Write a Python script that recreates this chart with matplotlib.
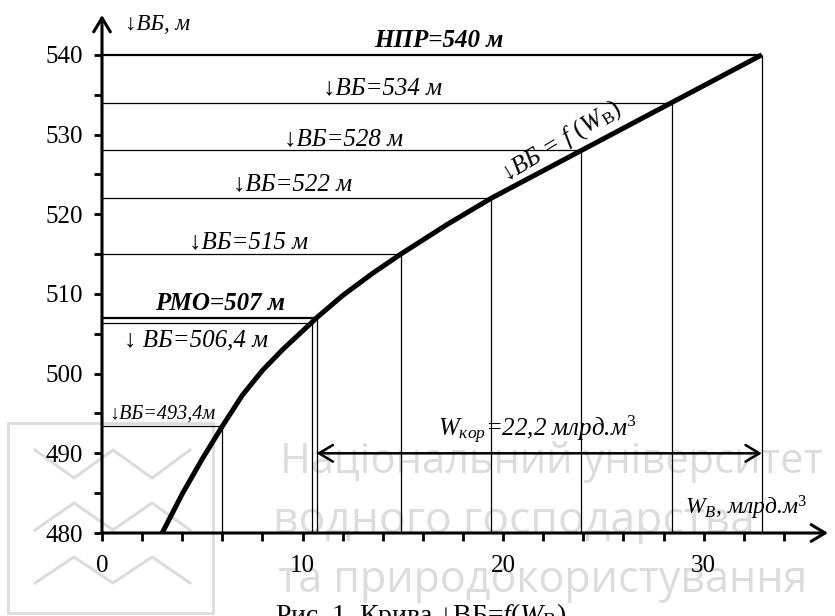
import matplotlib
matplotlib.use('Agg')
import matplotlib.pyplot as plt
from matplotlib.lines import Line2D
from matplotlib.patches import Rectangle

plt.rcParams['font.family'] = ['Liberation Serif', 'DejaVu Serif']
plt.rcParams['mathtext.fontset'] = 'custom'
plt.rcParams['mathtext.rm'] = 'Liberation Serif'
plt.rcParams['mathtext.it'] = 'Liberation Serif:italic'
plt.rcParams['mathtext.bf'] = 'Liberation Serif:bold'

# крива об'ємів водосховища (W, млрд.м3 -> рівень, м)
curve_w = [3.0, 4.0, 5.0, 6.0, 7.0, 8.0, 9.0, 10.45, 10.7, 12.0, 13.5, 14.9, 17.2, 19.4,
           23.9, 28.4, 32.9]
curve_z = [480, 484.9, 489.3, 493.4, 497.3, 500.4, 503.0, 506.4, 507, 509.8, 512.6, 515,
           518.7, 522, 528, 534, 540]

# характерні рівні
level_z = [540, 534, 528, 522, 515, 507, 506.4, 493.4]
level_w = [32.9, 28.4, 23.9, 19.4, 14.9, 10.7, 10.45, 6.0]
level_names = ['НПР=540 м', '↓ВБ=534 м', '↓ВБ=528 м', '↓ВБ=522 м', '↓ВБ=515 м',
               'РМО=507 м', '↓ ВБ=506,4 м', '↓ВБ=493,4м']

x_ticks = [0, 10, 20, 30]
y_ticks = [480, 490, 500, 510, 520, 530, 540]

# розміщення підписів (тільки оформлення)
label_pos = [(16.8, 541.0), (14.0, 535.0), (12.06, 528.7), (9.5, 523.0), (7.3, 515.7),
             (5.9, 508.0), (4.7, 503.4), (3.0, 494.4)]
label_size = [18, 18, 18, 18, 18, 18, 18, 14.5]
label_weight = ['bold', 'normal', 'normal', 'normal', 'normal', 'bold', 'normal', 'normal']
hline_lw = [1.6, 0.9, 0.9, 0.9, 0.9, 1.6, 0.9, 0.9]

fig = plt.figure(figsize=(8.35, 6.16), dpi=100)
ax = fig.add_axes([102 / 835, 83 / 616, 726 / 835, 518 / 616])
ax.patch.set_alpha(0)

# водяний знак
wm = '#dcdcdc'
wm_lines = ['Національний університет', 'водного господарства', 'та природокористування']
wm_x = [280, 273, 278]
wm_y = [473, 533, 592]
wm_fs = [30, 32, 31]
for t, xx, yy, fs in zip(wm_lines, wm_x, wm_y, wm_fs):
    fig.text(xx / 835, 1 - yy / 616, t, color=wm, fontsize=fs, family='Open Sans',
             ha='left', va='baseline', zorder=-5)
fig.add_artist(Rectangle((8 / 835, 1 - 613 / 616), 205 / 835, 190 / 616, fill=False,
                         ec=wm, lw=2, zorder=-5))
zig_rows = [(450, 478, True), (503, 530, False), (557, 583, False)]
for top, bot, w_shape in zig_rows:
    xs = [35, 74, 113, 152, 190]
    ys = [top, bot, top, bot, top] if w_shape else [bot, top, bot, top, bot]
    fig.add_artist(Line2D([v / 835 for v in xs], [1 - v / 616 for v in ys],
                          color=wm, lw=2.2, zorder=-5))

# горизонтальні та вертикальні лінії рівнів
for z, w, lw in zip(level_z, level_w, hline_lw):
    ax.plot([0, w], [z, z], color='black', lw=lw, solid_capstyle='butt')
    ax.plot([w, w], [480, z], color='black', lw=0.9, solid_capstyle='butt')

ax.plot(curve_w, curve_z, color='black', lw=3.6, solid_joinstyle='round',
        solid_capstyle='butt', zorder=5)

for name, (lx, ly), fs, fw in zip(level_names, label_pos, label_size, label_weight):
    ax.text(lx, ly, name, fontsize=fs, fontstyle='italic', fontweight=fw,
            ha='center', va='baseline')

ax.text(22.9, 529.1, '↓ВБ = $f\\ (W_{\\mathrm{В}})$', fontsize=18, fontstyle='italic',
        rotation=31, ha='center', va='center', rotation_mode='anchor')

# корисний об'єм
w_rmo = level_w[level_z.index(507)]
w_npr = level_w[level_z.index(540)]
w_kor = w_npr - w_rmo
ax.annotate('', xy=(w_rmo, 490), xytext=(w_npr, 490),
            arrowprops=dict(arrowstyle='<->,head_length=0.5,head_width=0.3', lw=1.8,
                            color='black', shrinkA=0, shrinkB=0, mutation_scale=20))
ax.text(16.75, 492.1, '$W_{кор}$=' + f'{w_kor:.1f}'.replace('.', ',') + ' млрд.м$^3$',
        fontsize=18, fontstyle='italic', ha='left', va='baseline')

ax.text(1.15, 543.1, '↓ВБ, м', fontsize=16.5, fontstyle='italic', ha='left', va='baseline')
ax.text(29.05, 482.3, '$W_{В}$, млрд.м$^3$', fontsize=17, fontstyle='italic',
        ha='left', va='baseline')

ax.set_xlim(0, 36.2)
ax.set_ylim(480, 545)
for s in ax.spines.values():
    s.set_visible(False)
for tip in [(1, 0), (0, 1)]:
    ax.annotate('', xy=tip, xytext=(0, 0), xycoords='axes fraction',
                arrowprops=dict(arrowstyle='->,head_length=0.5,head_width=0.3', lw=2.2,
                                color='black', shrinkA=0, shrinkB=0, mutation_scale=20))

ax.set_xticks(x_ticks)
ax.set_xticks([v for v in range(2, 36, 2) if v % 10], minor=True)
ax.set_yticks(y_ticks)
ax.set_yticks([485, 495, 505, 515, 525, 535], minor=True)
ax.tick_params(which='both', direction='out', length=6, width=2, labelsize=18)
ax.tick_params(axis='x', which='major', pad=10)
ax.tick_params(axis='y', which='major', pad=8)

fig.text(275 / 835, 1 - 601 / 616, 'Рис. 1. Крива ↓ВБ=$f$($W_{\\mathrm{В}}$)', fontsize=20,
         ha='left', va='top')

fig.savefig('out.png', dpi=100)
